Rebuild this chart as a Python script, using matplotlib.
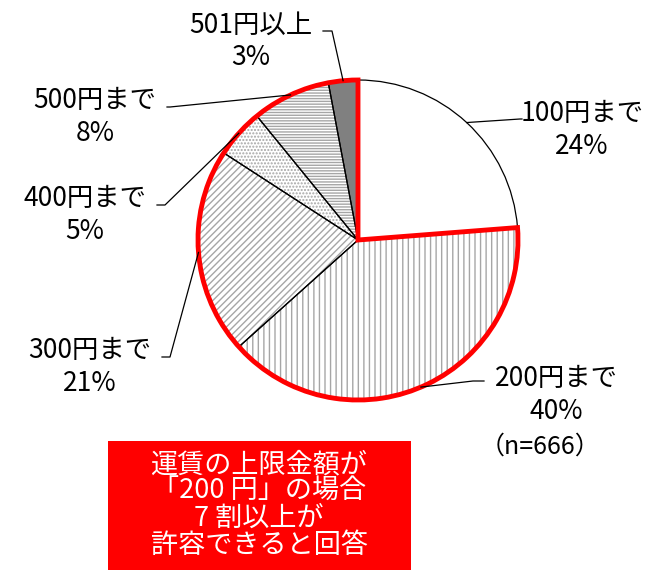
import matplotlib.pyplot as plt
import numpy as np
from matplotlib.patches import Wedge, Rectangle

plt.rcParams['font.family'] = ['Noto Sans CJK JP', 'DejaVu Sans']
plt.rcParams['hatch.linewidth'] = 1.0

# データ
categories = ['100円まで', '200円まで', '300円まで', '400円まで', '500円まで', '501円以上']
shares = [24, 40, 21, 5, 8, 3]
n_total = 666
note = '運賃の上限金額が\n「200 円」の場合\n7 割以上が\n許容できると回答'

# 見た目
hatches = ['', '|||', '/////', '.....', '------', '']
faces = ['white', 'white', 'white', 'white', 'white', '#808080']

# 画像のピクセル -> データ座標 (中心 358,240 / 半径 160px)
CX, CY, R = 358, 240, 160


def px(x, y):
    return ((x - CX) / R, (CY - y) / R)


# ラベル位置: (文字中心, 文字側の端, 折れ点)
label_layout = [
    ((582, 130), (522, 119), (520, 119)),
    ((556, 395), (484, 381), (473, 381)),
    ((90, 367), (162, 357), (170, 357)),
    ((85, 215), (157, 205), (165, 205)),
    ((95, 117), (167, 107), (170, 107)),
    ((251, 41), (323, 31), (332, 31)),
]

fig = plt.figure(figsize=(6.67, 5.73), dpi=100)
ax = fig.add_axes([0, 0, 1, 1])

# 網掛け
wedges, _ = ax.pie(shares, startangle=90, counterclock=False, radius=1,
                   colors=faces, wedgeprops=dict(edgecolor='#a6a6a6', linewidth=0))
for w, h in zip(wedges, hatches):
    w.set_hatch(h)
# 枠線
ax.pie(shares, startangle=90, counterclock=False, radius=1,
       wedgeprops=dict(fill=False, edgecolor='black', linewidth=0.9))

# 200円以上を赤枠で囲む
fr = np.array(shares) / sum(shares)
theta_end = 90 - 360 * fr[0]
ax.add_patch(Wedge((0, 0), 1, -270, theta_end, fill=False, edgecolor='#ff0000',
                   linewidth=3.5, joinstyle='miter', zorder=5))

# ラベルと引き出し線
cum = np.concatenate([[0], np.cumsum(fr)])
for i, (cat, s) in enumerate(zip(categories, shares)):
    mid = np.deg2rad(90 - 360 * (cum[i] + cum[i + 1]) / 2)
    anchor = (np.cos(mid), np.sin(mid))
    center, tip, elbow = label_layout[i]
    ax.text(*px(*center), f'{cat}\n{s}%', ha='center', va='center',
            fontsize=19, linespacing=1.25, color='black')
    ex, ey = px(*elbow)
    tx, ty = px(*tip)
    ax.plot([tx, ex, anchor[0]], [ty, ey, anchor[1]], color='black', lw=0.9, zorder=6)

ax.text(*px(540, 447), f'（n={n_total}）', ha='center', va='center', fontsize=18)

# 赤いボックス
x0, y0 = px(108, 570)
x1, y1 = px(411, 441)
ax.add_patch(Rectangle((x0, y0), x1 - x0, y1 - y0, facecolor='#ff0000',
                       edgecolor='none', zorder=4))
ax.text(*px(259, 505), note, ha='center', va='center', fontsize=19.5,
        color='white', linespacing=1.0, zorder=5)

ax.set_xlim(-CX / R, (667 - CX) / R)
ax.set_ylim((CY - 573) / R, CY / R)
ax.set_aspect('auto')
ax.axis('off')

fig.savefig('out.png', dpi=100)
